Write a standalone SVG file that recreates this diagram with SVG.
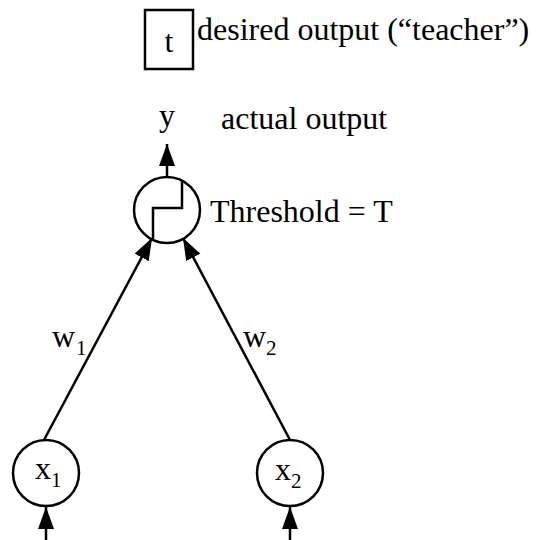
<svg xmlns="http://www.w3.org/2000/svg" width="539" height="540" viewBox="0 0 539 540">
  <style>
    text { font-family: "Liberation Serif", "Times New Roman", serif; font-size: 32px; fill: #000; }
    .sub { font-size: 21px; }
    .shape { fill: #fff; stroke: #000; stroke-width: 2.5; }
    .conn { fill: none; stroke: #000; stroke-width: 2.5; }
  </style>
  <defs>
    <marker id="arrow" markerUnits="userSpaceOnUse" markerWidth="24" markerHeight="18" refX="22" refY="8" orient="auto">
      <path d="M0,0 L22,8 L0,16 Z" fill="#000"/>
    </marker>
  </defs>
  <rect width="539" height="540" fill="#fff"/>

  <g id="connectors">
    <line class="conn" x1="167" y1="177" x2="167" y2="144" marker-end="url(#arrow)"/>
    <line class="conn" x1="44" y1="440" x2="152" y2="238" marker-end="url(#arrow)"/>
    <line class="conn" x1="290" y1="440" x2="183" y2="238" marker-end="url(#arrow)"/>
    <line class="conn" x1="46" y1="540" x2="46" y2="507" marker-end="url(#arrow)"/>
    <line class="conn" x1="290" y1="540" x2="290" y2="507" marker-end="url(#arrow)"/>
  </g>

  <g id="teacher">
    <rect class="shape" x="145" y="10" width="48" height="59"/>
    <text x="169" y="52" text-anchor="middle">t</text>
    <text x="197" y="40">desired output (“teacher”)</text>
  </g>

  <g id="output">
    <text x="167" y="126" text-anchor="middle">y</text>
    <text x="221" y="129">actual output</text>
  </g>

  <g id="threshold">
    <circle class="shape" cx="167" cy="210" r="33"/>
    <path class="conn" d="M153,240 V208 H182 V181"/>
    <text x="210" y="222">Threshold = T</text>
  </g>

  <g id="x1">
    <circle class="shape" cx="46" cy="473" r="33"/>
    <text x="35" y="479">x<tspan class="sub" dy="8">1</tspan></text>
  </g>

  <g id="x2">
    <circle class="shape" cx="290" cy="473" r="33"/>
    <text x="275" y="480">x<tspan class="sub" dy="8">2</tspan></text>
  </g>

  <g id="weights">
    <text x="52" y="347">w<tspan class="sub" dx="1" dy="8">1</tspan></text>
    <text x="243" y="347">w<tspan class="sub" dy="8">2</tspan></text>
  </g>
</svg>
